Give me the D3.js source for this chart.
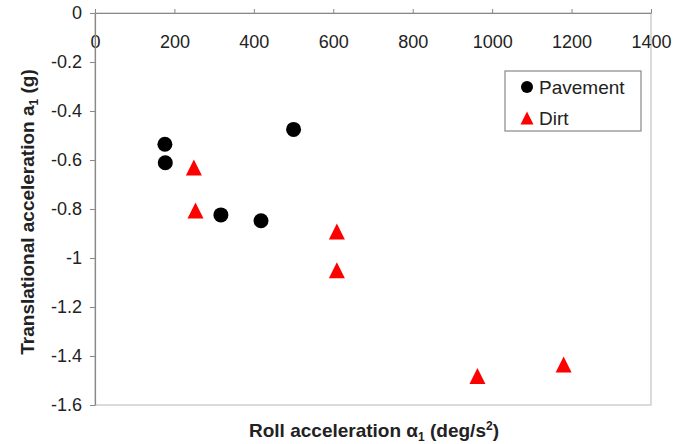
<!DOCTYPE html>
<html>
<head>
<meta charset="utf-8">
<script src="https://cdn.jsdelivr.net/npm/d3@7"></script>
<style>
  body { margin: 0; background: #fff; }
  text { font-family: "Liberation Sans", Arial, sans-serif; }
</style>
</head>
<body>
<div id="chart"></div>
<script>
    var width = 690,
        height = 444;

    // data
    var pavementX = [176, 177, 317, 418, 500];
    var pavementY = [-0.536, -0.611, -0.824, -0.848, -0.475];
    var dirtX = [249, 253, 609, 609, 963, 1180];
    var dirtY = [-0.631, -0.806, -0.892, -1.050, -1.482, -1.435];
    var xTicks = [0, 200, 400, 600, 800, 1000, 1200, 1400];
    var yTicks = [0, -0.2, -0.4, -0.6, -0.8, -1, -1.2, -1.4, -1.6];
    var seriesNames = ["Pavement", "Dirt"];

    var svg = d3.select("#chart").append("svg")
        .attr("width", width)
        .attr("height", height);

    var x = d3.scaleLinear().domain([0, 1400]).range([95, 651]);
    var y = d3.scaleLinear().domain([-1.6, 0]).range([405, 13]);

    // plain hyphen for negatives, as in the original
    function fmt(d) { return String(+d.toFixed(2)); }

    // triangle centred on its bounding box, like the spreadsheet marker
    var triangle = {
        draw: function (ctx, size) {
            var s = Math.sqrt(size);
            ctx.moveTo(0, -s / 2);
            ctx.lineTo(s / 2, s / 2);
            ctx.lineTo(-s / 2, s / 2);
            ctx.closePath();
        }
    };

    // plot area border
    svg.append("rect")
        .attr("x", x(0))
        .attr("y", y(0))
        .attr("width", x(1400) - x(0))
        .attr("height", y(-1.6) - y(0))
        .attr("fill", "none")
        .attr("stroke", "#c4c4c4")
        .attr("stroke-width", 1.2);

    // x axis sits on y = 0, ticks pointing up, labels below
    var xAxis = svg.append("g")
        .attr("transform", "translate(0," + y(0) + ")")
        .call(d3.axisBottom(x).tickValues(xTicks).tickSizeInner(-4).tickSizeOuter(0).tickPadding(22)
            .tickFormat(fmt));

    var yAxis = svg.append("g")
        .attr("transform", "translate(" + x(0) + ",0)")
        .call(d3.axisLeft(y).tickValues(yTicks).tickSizeInner(5).tickSizeOuter(0).tickPadding(8)
            .tickFormat(fmt));

    [xAxis, yAxis].forEach(function (a) {
        a.select(".domain").attr("stroke", "#888").attr("stroke-width", 1.2);
        a.selectAll(".tick line").attr("stroke", "#888");
        a.selectAll(".tick text")
            .attr("fill", "#222")
            .style("font-size", "18px")
            .style("font-family", "'Liberation Sans', Arial, sans-serif");
    });

    // points
    svg.append("g").selectAll("path.pave")
        .data(d3.range(pavementX.length))
        .enter().append("path")
        .attr("class", "pave")
        .attr("transform", function (i) { return "translate(" + x(pavementX[i]) + "," + y(pavementY[i]) + ")"; })
        .attr("d", d3.symbol().type(d3.symbolCircle).size(Math.PI * 7.5 * 7.5))
        .attr("fill", "#000");

    svg.append("g").selectAll("path.dirt")
        .data(d3.range(dirtX.length))
        .enter().append("path")
        .attr("class", "dirt")
        .attr("transform", function (i) { return "translate(" + x(dirtX[i]) + "," + y(dirtY[i]) + ")"; })
        .attr("d", d3.symbol().type(triangle).size(16 * 16))
        .attr("fill", "#ff0000");

    // legend
    var legend = svg.append("g");
    legend.append("rect")
        .attr("x", 505).attr("y", 71)
        .attr("width", 136).attr("height", 60)
        .attr("fill", "#fff")
        .attr("stroke", "#888")
        .attr("stroke-width", 1.2);
    legend.append("path")
        .attr("transform", "translate(527,87)")
        .attr("d", d3.symbol().type(d3.symbolCircle).size(Math.PI * 6 * 6))
        .attr("fill", "#000");
    legend.append("path")
        .attr("transform", "translate(527,118)")
        .attr("d", d3.symbol().type(triangle).size(13 * 13))
        .attr("fill", "#ff0000");
    legend.selectAll("text")
        .data(seriesNames)
        .enter().append("text")
        .attr("x", 539)
        .attr("y", function (d, i) { return 94 + i * 31; })
        .attr("fill", "#222")
        .style("font-size", "19px")
        .text(function (d) { return d; });

    // axis titles
    var xt = svg.append("text")
        .attr("x", 374).attr("y", 437)
        .attr("text-anchor", "middle")
        .attr("fill", "#222")
        .style("font-size", "19px")
        .style("font-weight", "bold");
    xt.append("tspan").text("Roll acceleration α");
    xt.append("tspan").attr("dy", 4).style("font-size", "12px").text("1");
    xt.append("tspan").attr("dy", -4).text(" (deg/s");
    xt.append("tspan").attr("dy", -7).style("font-size", "12px").text("2");
    xt.append("tspan").attr("dy", 7).text(")");

    var yt = svg.append("text")
        .attr("transform", "translate(34,212) rotate(-90)")
        .attr("text-anchor", "middle")
        .attr("fill", "#222")
        .style("font-size", "19px")
        .style("font-weight", "bold");
    yt.append("tspan").text("Translational acceleration a");
    yt.append("tspan").attr("dy", 4).style("font-size", "12px").text("1");
    yt.append("tspan").attr("dy", -4).text(" (g)");
</script>
</body>
</html>
